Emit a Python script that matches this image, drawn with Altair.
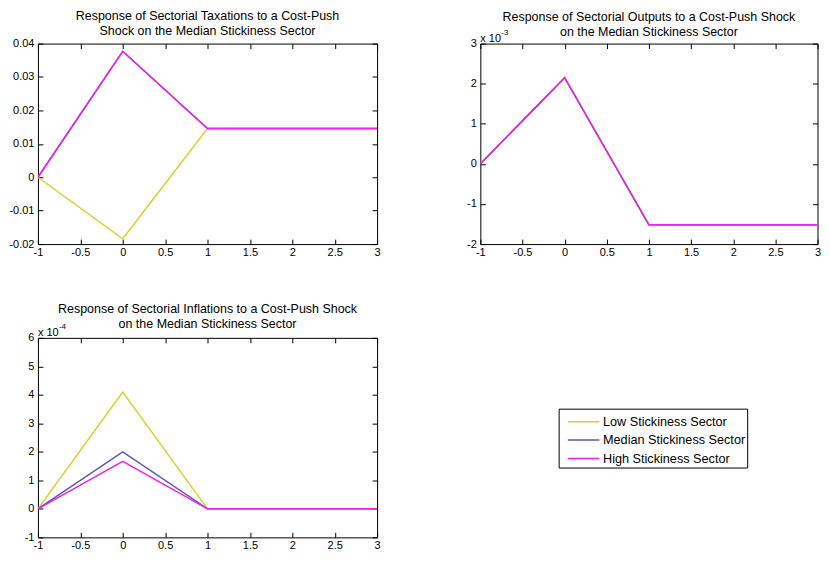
import altair as alt
import pandas as pd

FONT = "Liberation Sans"

# ---- data -------------------------------------------------------------
x_vals = [-1, 0, 1, 2, 3]
series = ["Low Stickiness Sector", "Median Stickiness Sector", "High Stickiness Sector"]
colors = ["#d6d22a", "#5a5aa8", "#f01ef0"]
widths = [1.5, 1.5, 2.0]

tax_low = [0.0, -0.0184, 0.0146, 0.0146, 0.0146]
tax_median = [0.0, 0.0377, 0.0146, 0.0146, 0.0146]
tax_high = [0.0, 0.0377, 0.0146, 0.0146, 0.0146]

out_low = [0.0, 0.00215, -0.00152, -0.00152, -0.00152]
out_median = [0.0, 0.00215, -0.00152, -0.00152, -0.00152]
out_high = [0.0, 0.00215, -0.00152, -0.00152, -0.00152]

inf_low = [0.0, 0.000410, 0.0, 0.0, 0.0]
inf_median = [0.0, 0.000200, 0.0, 0.0, 0.0]
inf_high = [0.0, 0.000167, 0.0, 0.0, 0.0]

x_ticks = [-1, -0.5, 0, 0.5, 1, 1.5, 2, 2.5, 3]
tax_ticks = [-0.02, -0.01, 0, 0.01, 0.02, 0.03, 0.04]
out_ticks = [-0.002, -0.001, 0, 0.001, 0.002, 0.003]
inf_ticks = [-0.0001, 0, 0.0001, 0.0002, 0.0003, 0.0004, 0.0005, 0.0006]

title_tax = ["Response of Sectorial Taxations to a Cost-Push", "Shock on the Median Stickiness Sector"]
title_out = ["Response of Sectorial Outputs to a Cost-Push Shock", "on the Median Stickiness Sector"]
title_inf = ["Response of Sectorial Inflations to a Cost-Push Shock", "on the Median Stickiness Sector"]


def make_df(lists):
    rows = []
    for s, vals in zip(series, lists):
        for xv, yv in zip(x_vals, vals):
            rows.append({"t": xv, "v": yv, "s": s})
    return pd.DataFrame(rows)


def axis(orient, values, labels=True, label_expr=None, pad=3):
    kw = dict(values=values, orient=orient, offset=-5, tickSize=5, grid=False, domain=False,
              tickColor="black", tickWidth=1, labels=labels)
    if labels:
        kw.update(labelPadding=pad, labelExpr=label_expr, labelFont=FONT, labelFontSize=11,
                  labelColor="black", labelOverlap=False, labelFlush=False, labelBound=False)
    return alt.Axis(**kw)


def panel(df, title, title_offset, ydom, yticks, label_expr, exponent=None, legend=False,
          width=340, height=200):
    xs = alt.Scale(domain=[-1, 3], nice=False, zero=False)
    ys = alt.Scale(domain=ydom, nice=False, zero=False)
    leg = None
    if legend:
        leg = alt.Legend(
            orient="none", legendX=522, legendY=71, title=None,
            symbolType="M-1.55,0H1.55", symbolSize=416, symbolStrokeWidth=1.5,
            symbolOffset=12, labelOffset=8.5,
            labelFont=FONT, labelFontSize=12.7, labelColor="black",
            strokeColor="black", fillColor="white", padding=2, rowPadding=0.5,
            cornerRadius=0,
        )
    lines = alt.Chart(df).mark_line(clip=True).encode(
        x=alt.X("t:Q", scale=xs, title=None,
                axis=axis("bottom", x_ticks, label_expr="'' + datum.value", pad=2)),
        y=alt.Y("v:Q", scale=ys, title=None,
                axis=axis("left", yticks, label_expr=label_expr, pad=4)),
        color=alt.Color("s:N", scale=alt.Scale(domain=series, range=colors), legend=leg),
        strokeWidth=alt.StrokeWidth("s:N", scale=alt.Scale(domain=series, range=widths), legend=None),
    )
    frame = alt.Chart(df).mark_point(opacity=0, size=0).encode(
        x=alt.X("t:Q", scale=xs, title=None, axis=axis("top", x_ticks, labels=False)),
        y=alt.Y("v:Q", scale=ys, title=None, axis=axis("right", yticks, labels=False)),
    )
    layers = [lines, frame]
    if exponent is not None:
        base_df = pd.DataFrame({"lab": ["x 10"]})
        exp_df = pd.DataFrame({"lab": [exponent]})
        base = alt.Chart(base_df).mark_text(
            align="left", baseline="alphabetic", font=FONT, fontSize=11, color="black", dy=-2
        ).encode(
            x=alt.XDatum(-1, scale=xs, axis=None),
            y=alt.YDatum(ydom[1], scale=ys, axis=None),
            text="lab:N",
        )
        expo = alt.Chart(exp_df).mark_text(
            align="left", baseline="alphabetic", font=FONT, fontSize=8, color="black", dx=21, dy=-9
        ).encode(
            x=alt.XDatum(-1, scale=xs, axis=None),
            y=alt.YDatum(ydom[1], scale=ys, axis=None),
            text="lab:N",
        )
        layers += [base, expo]
    return alt.layer(*layers).resolve_scale(x="independent", y="independent").properties(
        width=width, height=height,
        title=alt.TitleParams(text=title, font=FONT, fontSize=12.5, fontWeight="normal",
                              anchor="middle", offset=title_offset, lineHeight=15.5,
                              color="black", frame="group"),
    )


p1 = panel(make_df([tax_low, tax_median, tax_high]), title_tax, 0, [-0.02, 0.04], tax_ticks,
           "'' + datum.value", width=340, height=201)
p2 = panel(make_df([out_low, out_median, out_high]), title_out, -10, [-0.002, 0.003], out_ticks,
           "'' + round(datum.value * 1000)", exponent="-3", width=338, height=201)
p3 = panel(make_df([inf_low, inf_median, inf_high]), title_inf, -8, [-0.0001, 0.0006], inf_ticks,
           "'' + round(datum.value * 10000)", exponent="-4", legend=True, width=340, height=200)

chart = alt.concat(
    p1, p2, p3, columns=2, spacing={"row": 94, "column": 103.5}, bounds="flush"
).resolve_legend(color="independent", strokeWidth="independent").properties(
    padding={"left": 0, "top": 0, "right": 0, "bottom": 0},
    background="white",
).configure_view(
    stroke="black", strokeWidth=1
).configure_axis(
    domain=False, grid=False, tickColor="black", tickWidth=1,
    labelColor="black", labelFont=FONT, labelFontSize=11,
    labelOverlap=False, labelFlush=False, labelBound=False,
)

chart.save("out.html", embed_options={"renderer": "svg", "actions": False})
